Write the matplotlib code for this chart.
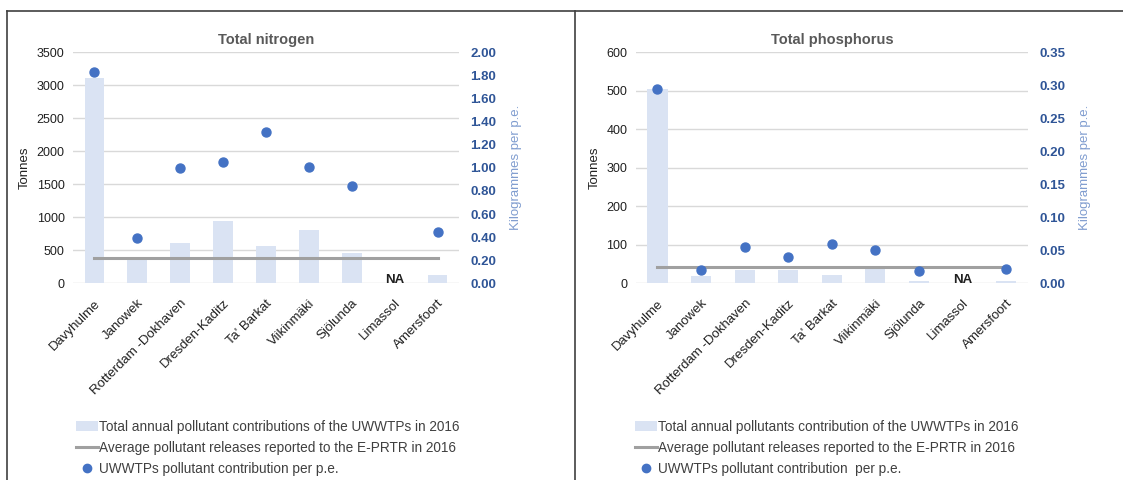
import matplotlib
matplotlib.use("Agg")
import matplotlib.pyplot as plt
from matplotlib.lines import Line2D
from matplotlib.patches import Patch

plt.rcParams['font.family'] = ['Liberation Sans', 'DejaVu Sans']

plants = ["Davyhulme", "Janowek", "Rotterdam -Dokhaven", "Dresden-Kaditz", "Ta' Barkat",
          "Viikinmäki", "Sjölunda", "Limassol", "Amersfoort"]

# Total nitrogen
n_tonnes = [3110, 375, 615, 945, 565, 810, 460, None, 130]
n_avg = 380
n_per_pe = [1.83, 0.39, 1.00, 1.05, 1.31, 1.01, 0.84, None, 0.44]

# Total phosphorus
p_tonnes = [504, 19, 34, 34, 22, 40, 7, None, 7]
p_avg = 42
p_per_pe = [0.295, 0.020, 0.055, 0.040, 0.059, 0.050, 0.018, None, 0.022]

BAR = "#dae3f3"
AVG = "#a0a0a0"
DOT = "#4472c4"
RTICK = "#2f5597"
RLAB = "#7f9ccf"
TXT = "#404040"

W, H = 1123, 480
fig = plt.figure(figsize=(W / 100, H / 100), dpi=100)


def px(x0, y0, x1, y1):
    return [x0 / W, 1 - y1 / H, (x1 - x0) / W, (y1 - y0) / H]


def panel(rect, title, tonnes, avg, perpe, ymax, ystep, rmax, rstep, rfmt, leg_x, leg_labels):
    ax = fig.add_axes(px(*rect))
    n = len(plants)
    xs = list(range(n))
    vals = [v if v is not None else 0 for v in tonnes]
    ax.bar(xs, vals, width=0.46, color=BAR, zorder=2)
    ax.plot([0, n - 1], [avg, avg], color=AVG, lw=2.2, zorder=3)
    ax.set_xlim(-0.5, n - 0.5)
    ax.set_ylim(0, ymax)
    ticks = list(range(0, ymax + 1, ystep))
    ax.set_yticks(ticks)
    ax.set_yticklabels([str(t) for t in ticks], fontsize=9, color="#202020")
    ax.grid(axis='y', color="#d9d9d9", lw=1, zorder=0)
    for s in ax.spines.values():
        s.set_visible(False)
    ax.tick_params(axis='both', length=0, pad=6)
    ax.set_xticks(xs)
    ax.set_xticklabels(plants, rotation=45, ha='right', rotation_mode='anchor',
                       fontsize=9.5, color="#202020")
    ax.tick_params(axis='x', pad=10)
    ax.set_ylabel("Tonnes", fontsize=9.5, color="#202020", labelpad=4)
    ax.set_title(title, fontsize=10.5, fontweight='bold', color="#595959", pad=6)
    for i, v in enumerate(tonnes):
        if v is None:
            ax.text(i, 0, "NA", ha='center', va='baseline', fontsize=9.5,
                    fontweight='bold', color="#202020", zorder=5)

    ax2 = ax.twinx()
    ax2.set_ylim(0, rmax)
    rt = [round(k * rstep, 4) for k in range(int(round(rmax / rstep)) + 1)]
    ax2.set_yticks(rt)
    ax2.set_yticklabels([rfmt.format(t) for t in rt], fontsize=9.5, color=RTICK, fontweight='bold')
    ax2.tick_params(axis='y', length=0, pad=8)
    for s in ax2.spines.values():
        s.set_visible(False)
    dx = [i for i, v in enumerate(perpe) if v is not None]
    dy = [v for v in perpe if v is not None]
    ax2.scatter(dx, dy, s=42, color=DOT, zorder=5)
    ax2.set_ylabel("Kilogrammes per p.e.", fontsize=9.5, color=RLAB, labelpad=10)

    handles = [Patch(facecolor=BAR, edgecolor='none'),
               Line2D([], [], color=AVG, lw=2.2),
               Line2D([], [], marker='o', color=DOT, lw=0, markersize=6)]
    fig.legend(handles, leg_labels, loc='upper left',
               bbox_to_anchor=(leg_x / W, 1 - 420 / H), frameon=False,
               fontsize=9.8, labelcolor=TXT, handlelength=1.6, handleheight=0.7,
               handletextpad=0.1, labelspacing=0.5, borderpad=0, borderaxespad=0)
    return ax


panel((73, 52.3, 459, 283.3), "Total nitrogen", n_tonnes, n_avg, n_per_pe,
      3500, 500, 2.0, 0.2, "{:.2f}", 76,
      ["Total annual pollutant contributions of the UWWTPs in 2016",
       "Average pollutant releases reported to the E-PRTR in 2016",
       "UWWTPs pollutant contribution per p.e."])

panel((635.7, 52.3, 1028, 283.3), "Total phosphorus", p_tonnes, p_avg, p_per_pe,
      600, 100, 0.35, 0.05, "{:.2f}", 635,
      ["Total annual pollutants contribution of the UWWTPs in 2016",
       "Average pollutant releases reported to the E-PRTR in 2016",
       "UWWTPs pollutant contribution  per p.e."])

# panel frames
fc = "#404040"
fig.add_artist(Line2D([7 / W, W / W], [1 - 10.5 / H, 1 - 10.5 / H], color=fc, lw=1.2))
fig.add_artist(Line2D([7 / W, 7 / W], [0, 1 - 10.5 / H], color=fc, lw=1.2))
fig.add_artist(Line2D([575 / W, 575 / W], [0, 1 - 10.5 / H], color=fc, lw=1.2))

fig.savefig("out.png", dpi=100)
